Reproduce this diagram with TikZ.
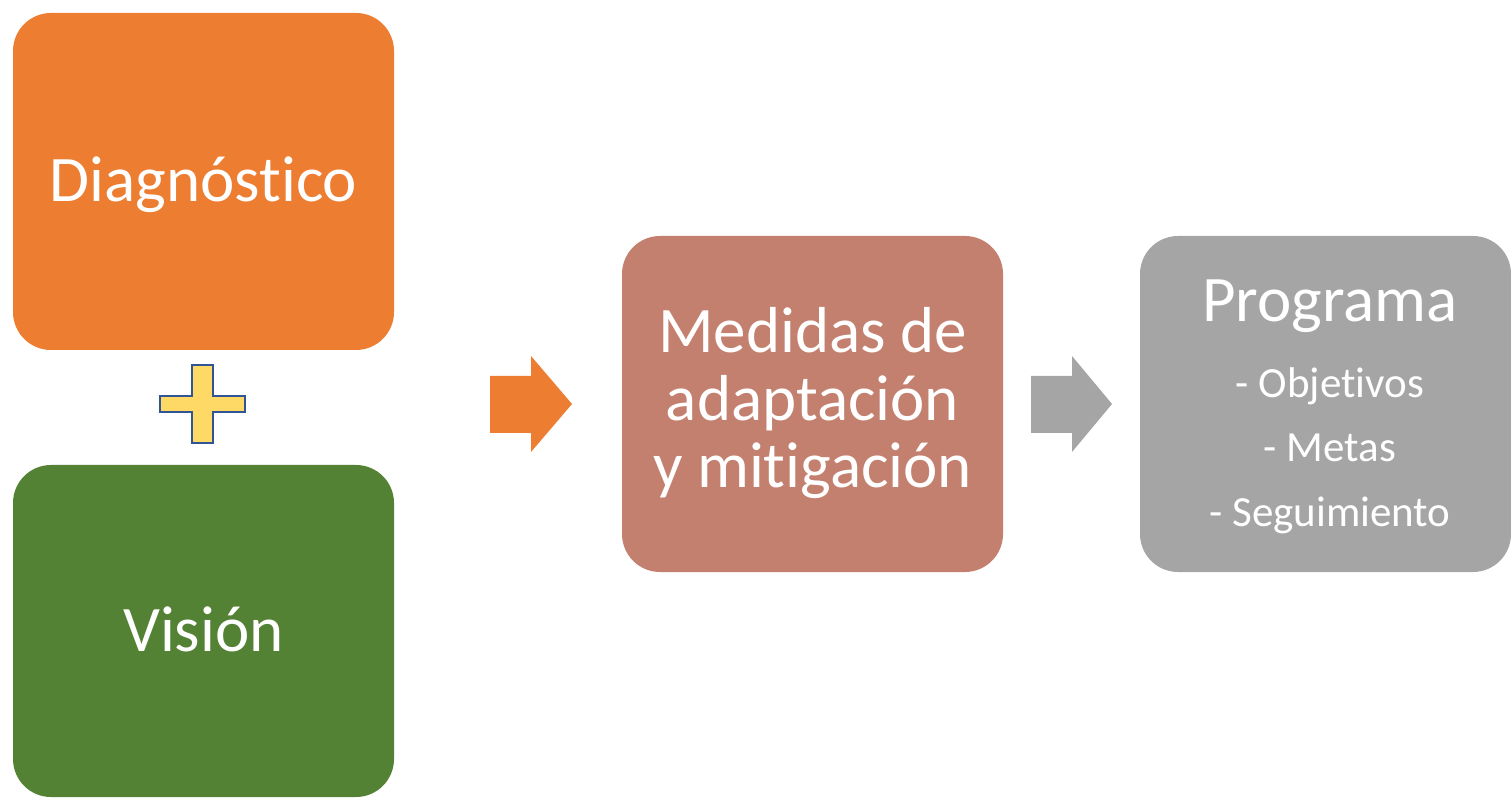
\documentclass[tikz,border=0pt]{standalone}
\usepackage{fontspec}
\setmainfont[Ligatures={NoCommon}]{Carlito}
\definecolor{orng}{HTML}{ED7D31}
\definecolor{grn}{HTML}{548235}
\definecolor{salmon}{HTML}{C4806F}
\definecolor{gry}{HTML}{A5A5A5}
\definecolor{plusfill}{HTML}{FFD966}
\definecolor{plusline}{HTML}{2F5597}
\begin{document}
\begin{tikzpicture}[x=1pt,y=1pt,
  bigtxt/.style={text=white, inner sep=0pt, anchor=base, font=\fontsize{65}{67}\selectfont},
  smalltxt/.style={text=white, inner sep=0pt, anchor=base, font=\fontsize{43}{50}\selectfont},
  ]
\useasboundingbox (0,0) rectangle (1511,798);
% boxes
\fill[orng, rounded corners=38pt] (13,798-13) rectangle (394,798-350);
\node[bigtxt] (diag) at (203.5,798-202) {Diagnóstico};
\fill[grn, rounded corners=38pt] (13,798-465) rectangle (394,798-797);
\node[bigtxt] (vision) at (203.5,798-651) {Visión};
\fill[salmon, rounded corners=38pt] (622,798-236) rectangle (1003,798-572);
\node[bigtxt] (med1) at (812.5,798-353) {Medidas de};
\node[bigtxt] (med2) at (812.5,798-421) {adaptación};
\node[bigtxt] (med3) at (812.5,798-488) {y mitigación};
\fill[gry, rounded corners=38pt] (1140,798-236) rectangle (1511,798-572);
\node[bigtxt] (prog) at (1330,798-322) {Programa};
\node[smalltxt] (obj) at (1330,798-398) {- Objetivos};
\node[smalltxt] (met) at (1330,798-462) {- Metas};
\node[smalltxt] (seg) at (1330,798-527) {- Seguimiento};
% plus sign
\draw[plusline, fill=plusfill, line width=2.2pt]
  (192,798-365) -- (213,798-365) -- (213,798-396) -- (245,798-396) -- (245,798-412)
  -- (213,798-412) -- (213,798-443) -- (192,798-443) -- (192,798-412) -- (160,798-412)
  -- (160,798-396) -- (192,798-396) -- cycle;
% arrows
\fill[orng] (490,798-376) -- (531,798-376) -- (531,798-356) -- (572,798-404)
  -- (531,798-452) -- (531,798-433) -- (490,798-433) -- cycle;
\fill[gry] (1031,798-376) -- (1072,798-376) -- (1072,798-356) -- (1112,798-404)
  -- (1072,798-452) -- (1072,798-433) -- (1031,798-433) -- cycle;
\end{tikzpicture}
\end{document}
